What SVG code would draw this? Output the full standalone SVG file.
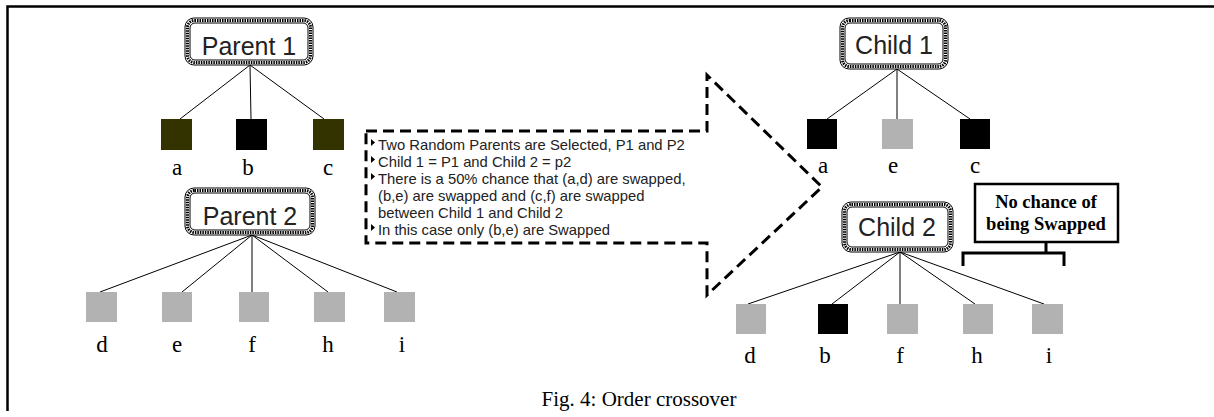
<svg xmlns="http://www.w3.org/2000/svg" width="1214" height="417" viewBox="0 0 1214 417">
<style>
.bg{fill:#fff}
.frame{fill:none;stroke:#000;stroke-width:2.5}
.nbo{fill:#fff;stroke:#000;stroke-width:1}
.nbd{fill:none;stroke:#000;stroke-width:3;stroke-dasharray:1.5 1}
.nl{font-family:"Liberation Sans",Arial,sans-serif;font-size:25px;fill:#222;text-anchor:middle}
.lt{font-family:"Liberation Serif","Times New Roman",serif;font-size:23px;fill:#000;text-anchor:middle}
.ln{stroke:#000;stroke-width:1;fill:none}
.gray{fill:#b2b2b2}
.blk{fill:#000}
.olv{fill:#333300}
.arrow{fill:none;stroke:#000;stroke-width:3;stroke-dasharray:11 6}
.at{font-family:"Liberation Sans",Arial,sans-serif;font-size:14.8px;fill:#222}
.nc{fill:#fff;stroke:#000;stroke-width:2.5}
.nct{font-family:"Liberation Serif","Times New Roman",serif;font-size:18.5px;font-weight:bold;fill:#000;text-anchor:middle}
.br{fill:none;stroke:#000;stroke-width:3}
.cap{font-family:"Liberation Serif","Times New Roman",serif;font-size:21px;fill:#000;text-anchor:middle}
</style>
<rect class="bg" x="0" y="0" width="1214" height="417"/>
<path class="frame" d="M1214,6.5 H7.5 V411"/>

<g id="connectors">
  <line class="ln" x1="250" y1="65" x2="180" y2="119"/>
  <line class="ln" x1="250" y1="65" x2="251" y2="119"/>
  <line class="ln" x1="250" y1="65" x2="324" y2="119"/>
  <line class="ln" x1="252" y1="235" x2="100" y2="292"/>
  <line class="ln" x1="252" y1="235" x2="182" y2="292"/>
  <line class="ln" x1="252" y1="235" x2="252" y2="292"/>
  <line class="ln" x1="252" y1="235" x2="328" y2="292"/>
  <line class="ln" x1="252" y1="235" x2="397" y2="292"/>
  <line class="ln" x1="897" y1="69" x2="827" y2="119"/>
  <line class="ln" x1="897" y1="69" x2="897" y2="119"/>
  <line class="ln" x1="897" y1="69" x2="970" y2="119"/>
  <line class="ln" x1="900" y1="252" x2="748" y2="304"/>
  <line class="ln" x1="900" y1="252" x2="832" y2="304"/>
  <line class="ln" x1="900" y1="252" x2="900" y2="304"/>
  <line class="ln" x1="900" y1="252" x2="975" y2="304"/>
  <line class="ln" x1="900" y1="252" x2="1044" y2="304"/>
</g>

<g id="parent1">
  <rect class="nbo" x="185" y="18" width="128" height="47" rx="9"/>
  <rect class="nbd" x="187.5" y="20.5" width="123" height="42" rx="7"/>
  <rect class="nbo" x="190" y="23" width="118" height="37" rx="5"/>
  <text class="nl" x="249" y="55">Parent 1</text>
</g>
<g id="p1-a"><rect class="olv" x="161" y="119" width="31" height="31"/><text class="lt" x="177" y="175">a</text></g>
<g id="p1-b"><rect class="blk" x="236" y="119" width="31" height="31"/><text class="lt" x="248" y="175">b</text></g>
<g id="p1-c"><rect class="olv" x="313" y="119" width="31" height="31"/><text class="lt" x="328" y="175">c</text></g>

<g id="parent2">
  <rect class="nbo" x="185" y="188" width="130" height="47" rx="9"/>
  <rect class="nbd" x="187.5" y="190.5" width="125" height="42" rx="7"/>
  <rect class="nbo" x="190" y="193" width="120" height="37" rx="5"/>
  <text class="nl" x="250" y="225">Parent 2</text>
</g>
<g id="p2-d"><rect class="gray" x="86" y="292" width="31" height="30"/><text class="lt" x="102" y="352">d</text></g>
<g id="p2-e"><rect class="gray" x="162" y="292" width="30" height="30"/><text class="lt" x="177" y="352">e</text></g>
<g id="p2-f"><rect class="gray" x="239" y="292" width="30" height="30"/><text class="lt" x="252" y="352">f</text></g>
<g id="p2-h"><rect class="gray" x="314" y="292" width="31" height="30"/><text class="lt" x="328" y="352">h</text></g>
<g id="p2-i"><rect class="gray" x="384" y="292" width="31" height="30"/><text class="lt" x="402" y="352">i</text></g>

<g id="arrow">
  <path class="arrow" d="M366,131 H707 V75 L822,187 L707,295 V243 H366 Z"/>
  <g class="at">
    <path d="M371,139 L375,142.5 L371,146 Z" fill="#000"/>
    <text x="378" y="150">Two Random Parents are Selected, P1 and P2</text>
    <path d="M371,156 L375,159.5 L371,163 Z" fill="#000"/>
    <text x="378" y="167">Child 1 = P1 and Child 2 = p2</text>
    <path d="M371,173 L375,176.5 L371,180 Z" fill="#000"/>
    <text x="378" y="184">There is a 50% chance that (a,d) are swapped,</text>
    <text x="378" y="201">(b,e) are swapped and (c,f) are swapped</text>
    <text x="378" y="218">between Child 1 and Child 2</text>
    <path d="M371,224 L375,227.5 L371,231 Z" fill="#000"/>
    <text x="378" y="235">In this case only (b,e) are Swapped</text>
  </g>
</g>

<g id="child1">
  <rect class="nbo" x="840" y="18" width="108" height="51" rx="9"/>
  <rect class="nbd" x="842.5" y="20.5" width="103" height="46" rx="7"/>
  <rect class="nbo" x="845" y="23" width="98" height="41" rx="5"/>
  <text class="nl" x="894" y="54">Child 1</text>
</g>
<g id="c1-a"><rect class="blk" x="807" y="119" width="30" height="30"/><text class="lt" x="823" y="173">a</text></g>
<g id="c1-e"><rect class="gray" x="882" y="119" width="31" height="30"/><text class="lt" x="893" y="173">e</text></g>
<g id="c1-c"><rect class="blk" x="960" y="119" width="30" height="30"/><text class="lt" x="975" y="173">c</text></g>

<g id="child2">
  <rect class="nbo" x="842" y="202" width="111" height="50" rx="9"/>
  <rect class="nbd" x="844.5" y="204.5" width="106" height="45" rx="7"/>
  <rect class="nbo" x="847" y="207" width="101" height="40" rx="5"/>
  <text class="nl" x="897" y="236">Child 2</text>
</g>
<g id="c2-d"><rect class="gray" x="736" y="304" width="30" height="30"/><text class="lt" x="750" y="363">d</text></g>
<g id="c2-b"><rect class="blk" x="818" y="304" width="30" height="30"/><text class="lt" x="825" y="363">b</text></g>
<g id="c2-f"><rect class="gray" x="887" y="304" width="31" height="30"/><text class="lt" x="900" y="363">f</text></g>
<g id="c2-h"><rect class="gray" x="963" y="304" width="30" height="30"/><text class="lt" x="977" y="363">h</text></g>
<g id="c2-i"><rect class="gray" x="1032" y="304" width="31" height="30"/><text class="lt" x="1049" y="363">i</text></g>

<g id="nochance">
  <rect class="nc" x="975" y="184" width="143" height="58"/>
  <text class="nct" x="1046" y="208">No chance of</text>
  <text class="nct" x="1046" y="230">being Swapped</text>
  <path class="br" d="M1046,242 V253 M963,266 V253 H1064 V266"/>
</g>

<text class="cap" x="639" y="406">Fig. 4: Order crossover</text>
</svg>
